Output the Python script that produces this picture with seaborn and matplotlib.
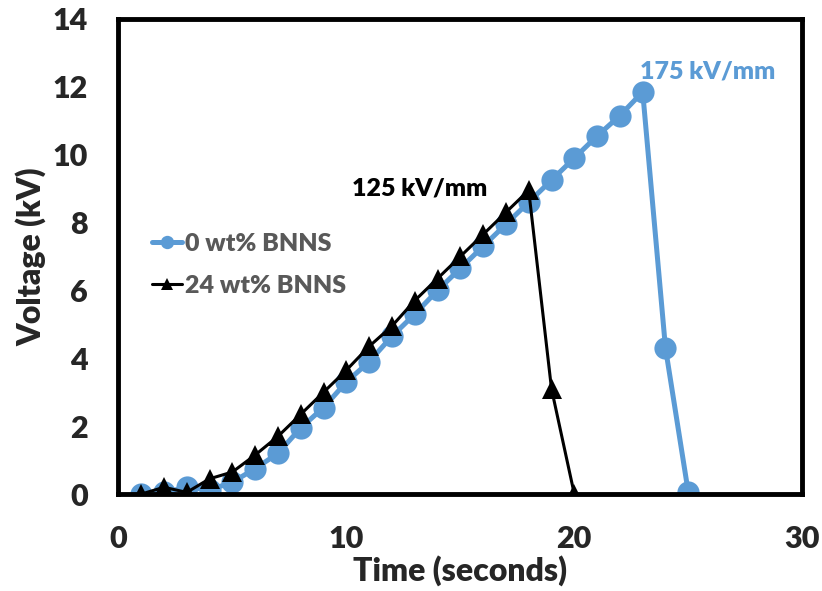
import numpy as np
import pandas as pd
import matplotlib
matplotlib.use("Agg")
import matplotlib.pyplot as plt
import seaborn as sns

# Data
time_0 = list(range(1, 26))
volt_0 = [0.0, 0.05, 0.2, 0.12, 0.35, 0.75, 1.2, 1.95, 2.55, 3.3, 3.9, 4.65, 5.3,
          6.0, 6.65, 7.3, 7.95, 8.6, 9.25, 9.9, 10.55, 11.15, 11.85, 4.3, 0.05]
time_24 = list(range(1, 21))
volt_24 = [0.0, 0.2, 0.05, 0.45, 0.65, 1.15, 1.7, 2.35, 3.0, 3.65, 4.35, 4.95,
           5.7, 6.35, 7.0, 7.65, 8.3, 8.95, 3.1, 0.0]
labels = ["0 wt% BNNS", "24 wt% BNNS"]

blue = "#5B9BD5"
W = "heavy"

sns.set_style("white")
plt.rcParams["font.family"] = ["Lato", "DejaVu Sans"]
plt.rcParams["font.weight"] = W

fig, ax = plt.subplots(figsize=(8.22, 5.91), dpi=100)
fig.subplots_adjust(left=0.144, right=0.976, top=0.968, bottom=0.164)

sns.lineplot(x=time_0, y=volt_0, ax=ax, color=blue, lw=3.6, marker="o",
             markersize=16, markeredgewidth=0, label=labels[0])
sns.lineplot(x=time_24, y=volt_24, ax=ax, color="black", lw=2.2, marker="^",
             markersize=15, markeredgewidth=0, label=labels[1])

ax.set_xlim(0, 30)
ax.set_ylim(0, 14)
ax.set_xticks([0, 10, 20, 30])
ax.set_yticks(np.arange(0, 15, 2))
ax.tick_params(direction="in", length=8, width=3, labelsize=22)
ax.tick_params(axis="y", pad=22)
ax.tick_params(axis="x", pad=22)
for lab in ax.get_xticklabels() + ax.get_yticklabels():
    lab.set_fontweight(W)
for sp in ax.spines.values():
    sp.set_linewidth(3.5)
    sp.set_color("black")
    sp.set_visible(True)

ax.set_xlabel("Time (seconds)", fontsize=23, fontweight=W, labelpad=2)
ax.set_ylabel("Voltage (kV)", fontsize=23, fontweight=W, labelpad=4)

ax.text(10.25, 8.8, "125 kV/mm", fontsize=18, fontweight=W, color="black",
        va="baseline")
ax.text(22.9, 12.25, "175 kV/mm", fontsize=18, fontweight=W, color=blue,
        va="baseline")

leg = ax.legend(loc="upper left", bbox_to_anchor=(0.035, 0.57), frameon=False,
                fontsize=18, handlelength=1.2, handletextpad=0.1, labelspacing=0.8,
                markerscale=0.6, borderaxespad=0)
for t in leg.get_texts():
    t.set_color("#595959")
    t.set_fontweight(W)

fig.savefig("out.png", dpi=100)
